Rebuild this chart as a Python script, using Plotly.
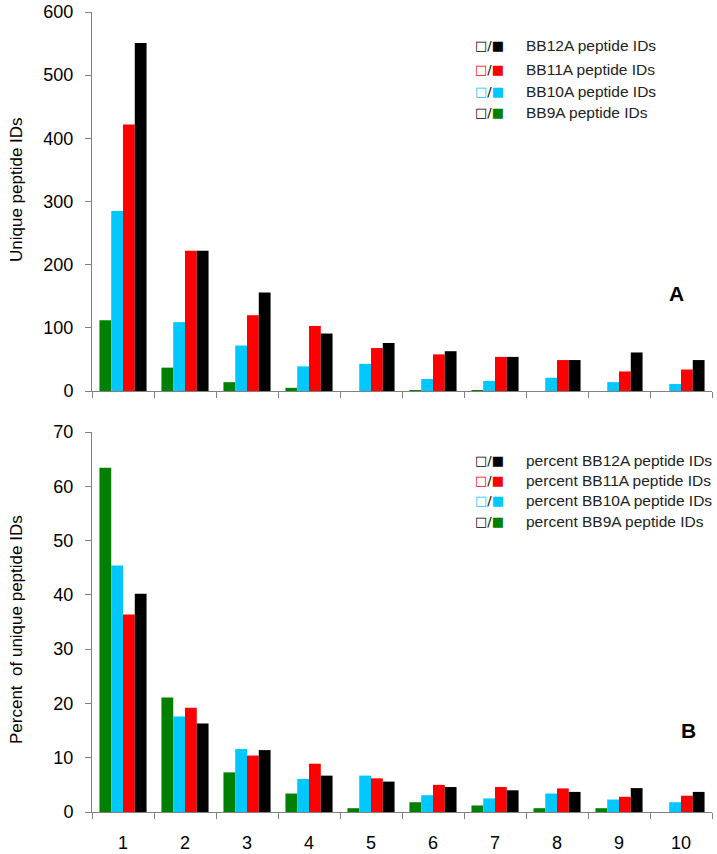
import plotly.graph_objects as go
from plotly.subplots import make_subplots

categories = ["1", "2", "3", "4", "5", "6", "7", "8", "9", "10"]

# Panel A: unique peptide IDs
bb9a_ids = [112, 37, 14, 5, 0, 1, 1, 0, 0, 0]
bb10a_ids = [285, 109, 72, 39, 43, 19, 16, 21, 14, 11]
bb11a_ids = [422, 222, 120, 103, 68, 58, 54, 49, 31, 34]
bb12a_ids = [551, 222, 156, 91, 76, 63, 54, 49, 61, 49]

# Panel B: percent of unique peptide IDs
bb9a_pct = [63.4, 21.1, 7.3, 3.4, 0.7, 1.8, 1.2, 0.7, 0.7, 0.0]
bb10a_pct = [45.4, 17.6, 11.6, 6.1, 6.7, 3.1, 2.5, 3.4, 2.3, 1.8]
bb11a_pct = [36.4, 19.2, 10.4, 8.9, 6.2, 5.0, 4.6, 4.35, 2.8, 3.0]
bb12a_pct = [40.2, 16.3, 11.4, 6.7, 5.6, 4.6, 4.0, 3.7, 4.4, 3.7]

GREEN = "#008000"
CYAN = "#00C8FF"
RED = "#FF0000"
BLACK = "#000000"

FONT = "Liberation Sans, Arial, sans-serif"

W, H = 717, 854
ML, MR, MT, MB = 92, 5, 12, 42
PW = W - ML - MR
PH = H - MT - MB

def px_x(x):
    return (x - ML) / PW

def px_y(y):
    return 1 - (y - MT) / PH

fig = make_subplots(rows=2, cols=1, vertical_spacing=0.05)

series_a = [(bb9a_ids, GREEN), (bb10a_ids, CYAN), (bb11a_ids, RED), (bb12a_ids, BLACK)]
series_b = [(bb9a_pct, GREEN), (bb10a_pct, CYAN), (bb11a_pct, RED), (bb12a_pct, BLACK)]

for vals, col in series_a:
    fig.add_trace(go.Bar(x=categories, y=vals, marker=dict(color=col, line=dict(width=0)),
                         showlegend=False), row=1, col=1)
for vals, col in series_b:
    fig.add_trace(go.Bar(x=categories, y=vals, marker=dict(color=col, line=dict(width=0)),
                         showlegend=False), row=2, col=1)

axis_color = "#808080"
common_x = dict(type="category", tickson="boundaries", ticks="outside", ticklen=6,
                tickcolor=axis_color, showline=True, linecolor=axis_color, linewidth=1,
                showgrid=False, zeroline=False, automargin=False, ticklabelstandoff=14,
                tickfont=dict(family=FONT, size=18, color="black"))
fig.update_xaxes(**common_x)
fig.update_xaxes(showticklabels=False, row=1, col=1)

common_y = dict(ticks="outside", ticklen=6, tickcolor=axis_color, showline=True,
                linecolor=axis_color, linewidth=1, showgrid=False, zeroline=False,
                automargin=False, ticklabelstandoff=8,
                tickfont=dict(family=FONT, size=18, color="black"))
fig.update_yaxes(**common_y)
fig.update_yaxes(range=[0, 600], dtick=100, row=1, col=1)
fig.update_yaxes(range=[0, 70], dtick=10, row=2, col=1)

fig.update_layout(
    width=W, height=H,
    margin=dict(l=ML, r=MR, t=MT, b=MB),
    plot_bgcolor="white", paper_bgcolor="white",
    barmode="group", bargap=0.24, bargroupgap=0,
    font=dict(family=FONT, color="black"),
)
fig.update_layout(yaxis=dict(domain=[px_y(391), 1.0]), yaxis2=dict(domain=[0.0, px_y(432)]))

# axis titles
fig.add_annotation(xref="paper", yref="paper", x=px_x(16), y=px_y(190),
                   text="Unique peptide IDs", textangle=-90, showarrow=False,
                   xanchor="center", yanchor="middle",
                   font=dict(family=FONT, size=17, color="black"))
fig.add_annotation(xref="paper", yref="paper", x=px_x(16), y=px_y(630),
                   text="Percent&nbsp;&nbsp;of unique peptide IDs", textangle=-90, showarrow=False,
                   xanchor="center", yanchor="middle",
                   font=dict(family=FONT, size=17, color="black"))

legend_a = [("BB12A peptide IDs", BLACK, BLACK), ("BB11A peptide IDs", RED, RED),
            ("BB10A peptide IDs", CYAN, CYAN), ("BB9A peptide IDs", BLACK, GREEN)]
legend_b = [("percent BB12A peptide IDs", BLACK, BLACK), ("percent BB11A peptide IDs", RED, RED),
            ("percent BB10A peptide IDs", CYAN, CYAN), ("percent BB9A peptide IDs", BLACK, GREEN)]

def add_legend(items, ys):
    for (label, hollow, filled), ypx in zip(items, ys):
        yp = px_y(ypx)
        fig.add_annotation(xref="paper", yref="paper", x=px_x(473), y=yp,
                           xanchor="left", yanchor="middle", showarrow=False,
                           text=f"<span style='color:{hollow}'>□</span><span style='color:black'>/</span><span style='color:{filled}'>■</span>",
                           font=dict(family="DejaVu Sans", size=13))
        fig.add_annotation(xref="paper", yref="paper", x=px_x(524), y=yp,
                           xanchor="left", yanchor="middle", showarrow=False,
                           text=label, font=dict(family=FONT, size=15.5, color="#222222"))

add_legend(legend_a, [46, 69, 91, 112])
add_legend(legend_b, [460, 480, 501, 521])

fig.add_annotation(xref="paper", yref="paper", x=px_x(676), y=px_y(293),
                   text="<b>A</b>", showarrow=False, xanchor="center", yanchor="middle",
                   font=dict(family=FONT, size=21, color="black"))
fig.add_annotation(xref="paper", yref="paper", x=px_x(688), y=px_y(730),
                   text="<b>B</b>", showarrow=False, xanchor="center", yanchor="middle",
                   font=dict(family=FONT, size=21, color="black"))

fig.write_html("out.html", config={"displayModeBar": False},
               post_script="document.body.style.margin='0px';document.body.style.overflow='hidden';")
